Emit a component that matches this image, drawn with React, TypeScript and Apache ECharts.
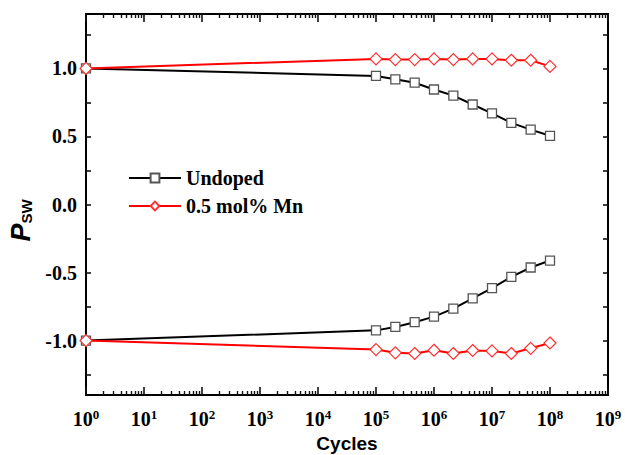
import React, { useEffect, useRef } from 'react';
import * as echarts from 'echarts';

const cycles = [1, 1e5, 2.154e5, 4.642e5, 1e6, 2.154e6, 4.642e6, 1e7, 2.154e7, 4.642e7, 1e8];
const undopedPos = [1, 0.945, 0.92, 0.895, 0.845, 0.8, 0.735, 0.67, 0.6, 0.55, 0.505];
const undopedNeg = [-1, -0.925, -0.9, -0.865, -0.824, -0.765, -0.69, -0.615, -0.532, -0.463, -0.412];
const mnPos = [1, 1.07, 1.065, 1.065, 1.07, 1.065, 1.07, 1.07, 1.06, 1.06, 1.015];
const mnNeg = [-1, -1.066, -1.09, -1.095, -1.071, -1.095, -1.073, -1.076, -1.095, -1.057, -1.018];

const seriesNames = ['Undoped', '0.5 mol% Mn'];
const xMajorTicks = [1, 1e1, 1e2, 1e3, 1e4, 1e5, 1e6, 1e7, 1e8, 1e9];
const yLabelValues = [-1, -0.5, 0, 0.5, 1];
const yTickValues = [-1.25, -1, -0.75, -0.5, -0.25, 0, 0.25, 0.5, 0.75, 1, 1.25];

const xMinorTicks: number[] = [];
for (let d = 0; d < 9; d++) {
  for (let m = 2; m <= 9; m++) xMinorTicks.push(m * Math.pow(10, d));
}

export default function App() {
  const ref = useRef<HTMLDivElement>(null);
  useEffect(() => {
    const chart = echarts.init(ref.current!, null, { renderer: 'svg' });
    const serif = 'Liberation Serif';
    const sans = 'Liberation Sans';
    const ink = '#111';
    const pair = (ys: number[]) => cycles.map((c, i) => [c, ys[i]]);
    const axisLine = { show: true, onZero: false, lineStyle: { color: '#000', width: 2 } };
    const majorTick = { show: true, inside: true, length: 8, lineStyle: { color: ink, width: 1.6 }, customValues: xMajorTicks };
    const minorTick = { show: true, inside: true, length: 4, lineStyle: { color: ink, width: 1.4 }, customValues: xMinorTicks };
    const yTick = { show: true, inside: true, length: 5, lineStyle: { color: ink, width: 1.6 }, customValues: yTickValues };
    const baseX = {
      type: 'log',
      logBase: 10,
      min: 1,
      max: 1e9,
      splitLine: { show: false },
    };
    const undoped = {
      type: 'line',
      name: seriesNames[0],
      symbol: 'rect',
      symbolSize: 9,
      itemStyle: { color: '#fff', borderColor: '#555', borderWidth: 1.3 },
      lineStyle: { color: '#000', width: 2 },
      z: 2,
    };
    const mn = {
      type: 'line',
      name: seriesNames[1],
      symbol: 'diamond',
      symbolSize: 12,
      itemStyle: { color: '#fff', borderColor: '#ff3030', borderWidth: 1.2 },
      lineStyle: { color: '#ff0000', width: 2 },
      z: 3,
    };
    chart.setOption({
      animation: false,
      backgroundColor: '#fff',
      grid: { left: 86, right: 17, top: 14, bottom: 60, containLabel: false, outerBoundsMode: 'none' },
      legend: {
        data: seriesNames,
        orient: 'vertical',
        left: 128,
        top: 168,
        padding: 0,
        itemWidth: 52,
        itemHeight: 11,
        itemGap: 8,
        textStyle: { fontFamily: serif, fontWeight: 'bold', fontSize: 20, color: '#000' },
      },
      xAxis: [
        {
          ...baseX,
          position: 'bottom',
          axisLine,
          axisTick: majorTick,
          axisLabel: {
            customValues: xMajorTicks,
            margin: 13,
            formatter: (v: number) => `{b|10}{s|${Math.round(Math.log10(v))}}`,
            rich: {
              b: { fontFamily: serif, fontWeight: 'bold', fontSize: 20, color: '#000', lineHeight: 22 },
              s: { fontFamily: serif, fontWeight: 'bold', fontSize: 13, color: '#000', verticalAlign: 'top', lineHeight: 13 },
            },
          },
          name: 'Cycles',
          nameLocation: 'middle',
          nameGap: 38,
          nameTextStyle: { fontFamily: sans, fontWeight: 'bold', fontSize: 19, color: '#000' },
        },
        {
          ...baseX,
          position: 'bottom',
          axisLine: { show: false, onZero: false },
          axisTick: minorTick,
          axisLabel: { show: false },
        },
        {
          ...baseX,
          position: 'top',
          axisLine,
          axisTick: majorTick,
          axisLabel: { show: false },
        },
        {
          ...baseX,
          position: 'top',
          axisLine: { show: false, onZero: false },
          axisTick: minorTick,
          axisLabel: { show: false },
        },
      ],
      yAxis: [
        {
          type: 'value',
          position: 'left',
          min: -1.4,
          max: 1.4,
          splitLine: { show: false },
          axisLine,
          axisTick: yTick,
          axisLabel: {
            customValues: yLabelValues,
            margin: 9,
            formatter: (v: number) => v.toFixed(1),
            fontFamily: serif,
            fontWeight: 'bold',
            fontSize: 20,
            color: '#000',
          },
          name: '{p|P}{s|SW}',
          nameLocation: 'middle',
          nameRotate: 90,
          nameGap: 48,
          nameTextStyle: {
            padding: [0, 32, 0, 0],
            rich: {
              p: { fontFamily: sans, fontStyle: 'italic', fontWeight: 'bold', fontSize: 27, color: '#000' },
              s: { fontFamily: sans, fontWeight: 'bold', fontSize: 15, color: '#000', verticalAlign: 'bottom' },
            },
          },
        },
        {
          type: 'value',
          position: 'right',
          min: -1.4,
          max: 1.4,
          splitLine: { show: false },
          axisLine,
          axisTick: yTick,
          axisLabel: { show: false },
        },
      ],
      series: [
        { ...undoped, data: pair(undopedPos) },
        { ...undoped, data: pair(undopedNeg) },
        { ...mn, data: pair(mnPos) },
        { ...mn, data: pair(mnNeg) },
      ],
    });
    return () => chart.dispose();
  }, []);
  return (
    <div
      ref={ref}
      style={{ position: 'fixed', left: 0, top: 0, width: 625, height: 455, background: '#fff' }}
    />
  );
}
